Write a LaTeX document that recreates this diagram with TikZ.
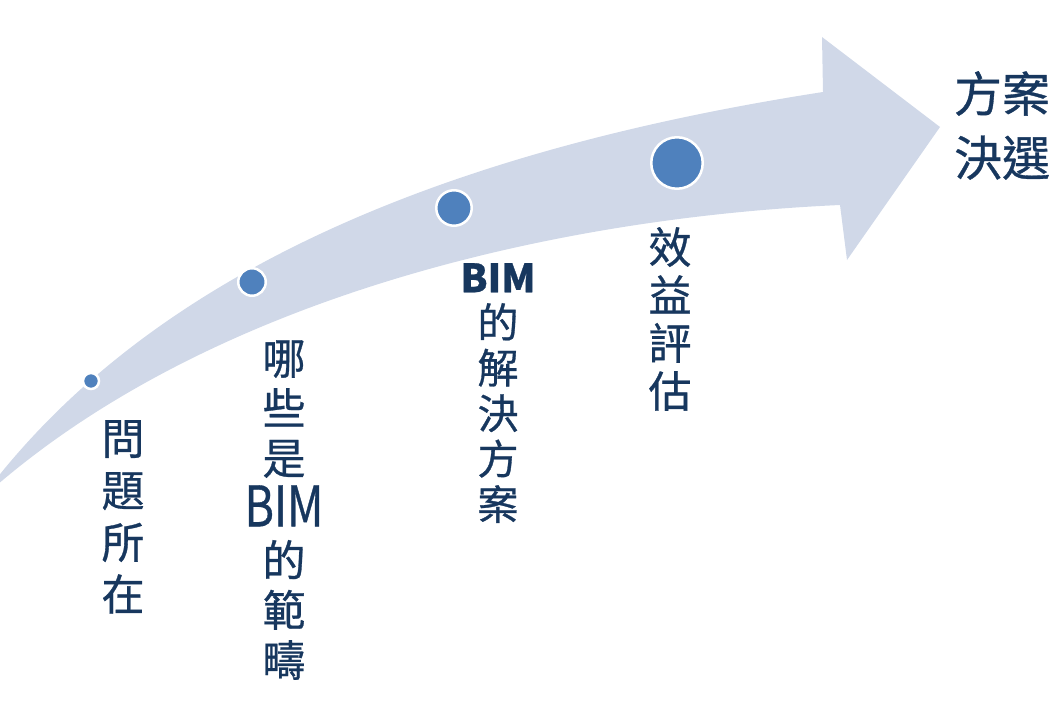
\documentclass[tikz,border=0pt]{standalone}
\usepackage{graphicx}
\usepackage{fontspec}
\setmainfont{Noto Sans CJK TC}[FakeBold=0.7]
\usepackage{tikz}
\usetikzlibrary{positioning}
\definecolor{bandblue}{RGB}{208,216,232}
\definecolor{dotblue}{RGB}{79,129,189}
\definecolor{inkblue}{RGB}{23,55,94}
\newcommand{\bimwide}{\scalebox{0.8}[1]{\fontsize{56}{50}\selectfont BIM}}

\begin{document}
\begin{tikzpicture}[x=1pt,y=-1pt,
  band/.style={fill=bandblue,draw=none},
  dot/.style={circle,fill=dotblue,draw=white,line width=2.5pt,inner sep=0pt},
  lbl/.style={text=inkblue,align=center,inner sep=0pt,anchor=north,font=\fontsize{43}{50}\selectfont}
]
\useasboundingbox (0,0) rectangle (1055,701);
% curved arrow
\begin{scope}
\clip (0,0) rectangle (1055,701);
\path[band] (-20,500) .. controls (150,270) and (450,150) .. (823,92) -- (822,37) -- (940,127)
  -- (847,260) -- (840,205) .. controls (550,218) and (200,300) .. (-20,500) -- cycle;
\end{scope}
% steps
\node[dot,minimum size=16pt] (d1) at (91,381) {};
\node[dot,minimum size=27.5pt] (d2) at (252,282) {};
\node[dot,minimum size=35.5pt] (d3) at (454,208) {};
\node[dot,minimum size=51.5pt] (d4) at (677,163) {};
\node[lbl,font=\fontsize{43}{52}\selectfont] (wenti) at (123,420) {問\\題\\所\\在};
\node[lbl] (fanchou) at (284,340) {哪\\些\\是\\[2pt]\bimwide\\的\\範\\疇};
\node[lbl,font=\fontsize{41}{45.5}\selectfont] (jiejue) at (498,263) {{\fontsize{39}{40}\selectfont\bfseries BIM}\\的\\解\\決\\方\\案};
\node[lbl,font=\fontsize{43}{48}\selectfont] (xiaoyi) at (670,227) {效\\益\\評\\估};
\node[lbl,font=\fontsize{48}{64}\selectfont] (juexuan) at (1002,71) {方案\\決選};
\end{tikzpicture}
\end{document}
